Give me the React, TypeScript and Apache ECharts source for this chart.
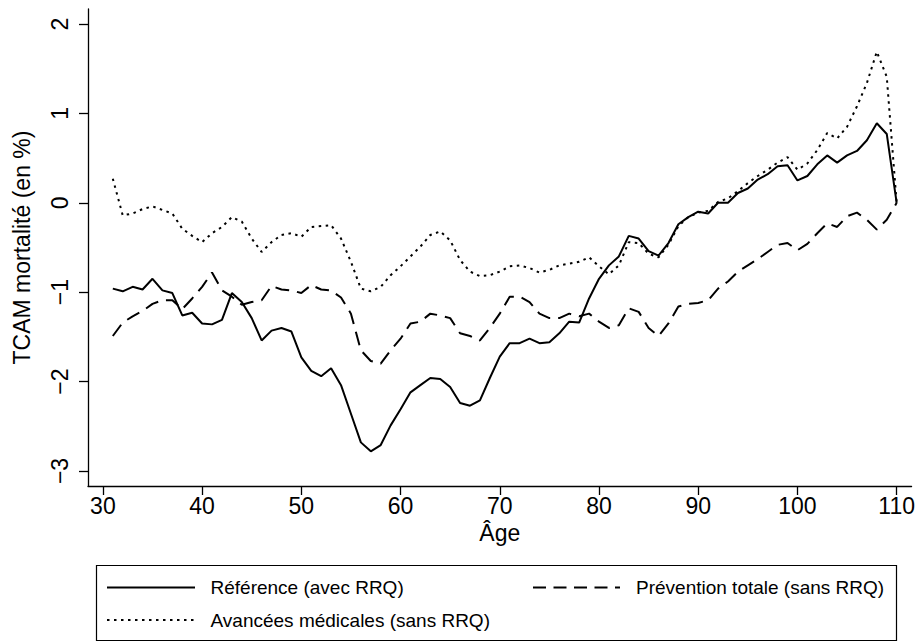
import React, { useEffect, useRef } from "react";
import * as echarts from "echarts";

const ages: number[] = [];
for (let a = 31; a <= 110; a++) ages.push(a);

const reference = [
  -0.96, -0.99, -0.94, -0.97, -0.85, -0.98, -1.01, -1.26, -1.23, -1.35,
  -1.36, -1.31, -1.01, -1.11, -1.29, -1.54, -1.43, -1.40, -1.44, -1.73,
  -1.88, -1.94, -1.85, -2.04, -2.36, -2.68, -2.78, -2.71, -2.49, -2.31,
  -2.12, -2.04, -1.96, -1.97, -2.06, -2.24, -2.27, -2.21, -1.96, -1.72,
  -1.57, -1.57, -1.52, -1.57, -1.56, -1.46, -1.33, -1.34, -1.07, -0.85,
  -0.70, -0.60, -0.37, -0.40, -0.54, -0.59, -0.45, -0.24, -0.16, -0.10,
  -0.12, 0.0, 0.0, 0.11, 0.16, 0.26, 0.32, 0.41, 0.42, 0.25,
  0.30, 0.43, 0.53, 0.45, 0.53, 0.58, 0.70, 0.89, 0.77, 0.0,
];

const prevention = [
  -1.49, -1.34, -1.27, -1.21, -1.13, -1.09, -1.09, -1.19, -1.07, -0.94,
  -0.78, -0.98, -1.05, -1.14, -1.11, -1.09, -0.93, -0.97, -0.98, -1.01,
  -0.92, -0.97, -0.98, -1.06, -1.24, -1.65, -1.77, -1.80, -1.65, -1.52,
  -1.35, -1.33, -1.24, -1.26, -1.29, -1.46, -1.49, -1.54, -1.40, -1.24,
  -1.05, -1.05, -1.11, -1.24, -1.29, -1.29, -1.24, -1.27, -1.24, -1.33,
  -1.40, -1.37, -1.18, -1.22, -1.40, -1.49, -1.35, -1.16, -1.13, -1.12,
  -1.09, -0.96, -0.88, -0.77, -0.70, -0.63, -0.55, -0.47, -0.45, -0.53,
  -0.46, -0.34, -0.23, -0.27, -0.15, -0.11, -0.19, -0.30, -0.19, 0.0,
];

const avancees = [
  0.27, -0.14, -0.12, -0.07, -0.04, -0.08, -0.12, -0.29, -0.37, -0.44,
  -0.34, -0.27, -0.16, -0.21, -0.40, -0.55, -0.44, -0.36, -0.34, -0.38,
  -0.27, -0.26, -0.25, -0.40, -0.66, -0.96, -0.99, -0.94, -0.81, -0.71,
  -0.60, -0.49, -0.36, -0.32, -0.42, -0.64, -0.77, -0.82, -0.81, -0.77,
  -0.71, -0.70, -0.73, -0.78, -0.75, -0.70, -0.68, -0.66, -0.61, -0.71,
  -0.80, -0.70, -0.44, -0.45, -0.57, -0.61, -0.47, -0.26, -0.16, -0.11,
  -0.09, 0.01, 0.05, 0.13, 0.22, 0.30, 0.37, 0.45, 0.51, 0.37,
  0.44, 0.59, 0.78, 0.72, 0.85, 1.08, 1.34, 1.69, 1.41, 0.0,
];

const xTicks = [30, 40, 50, 60, 70, 80, 90, 100, 110];
const yTicks = [-3, -2, -1, 0, 1, 2];

const seriesNames = [
  "Référence (avec RRQ)",
  "Prévention totale (sans RRQ)",
  "Avancées médicales (sans RRQ)",
];

const FONT = "'Liberation Sans', Arial, Helvetica, sans-serif";

export default function App() {
  const ref = useRef<HTMLDivElement>(null);

  useEffect(() => {
    if (!ref.current) return;
    const chart = echarts.init(ref.current, null, { renderer: "svg" });
    const pair = (vals: number[]) => ages.map((a, i) => [a, vals[i]]);
    const fmt = (v: number) => (v < 0 ? "\u2212" + Math.abs(v) : String(v));

    const legendTextStyle = {
      fill: "#000",
      fontSize: 19,
      fontFamily: FONT,
      verticalAlign: "middle" as const,
      align: "left" as const,
    };

    chart.setOption({
      animation: false,
      backgroundColor: "#fff",
      grid: { left: 88, right: 6, top: 9, bottom: 155, containLabel: false },
      xAxis: {
        type: "value",
        min: 28.5,
        max: 111.5,
        name: "Âge",
        nameLocation: "middle",
        nameGap: 33,
        nameTextStyle: { color: "#000", fontSize: 23, fontFamily: FONT },
        axisLine: { show: true, onZero: false, lineStyle: { color: "#000", width: 1.3 } },
        axisTick: {
          show: true,
          length: 9,
          customValues: xTicks,
          lineStyle: { color: "#000", width: 1.3 },
        },
        axisLabel: {
          customValues: xTicks,
          color: "#000",
          fontSize: 23,
          fontFamily: FONT,
          margin: 8,
        },
        splitLine: { show: false },
      },
      yAxis: {
        type: "value",
        min: -3.168,
        max: 2.168,
        name: "TCAM mortalité (en %)",
        nameLocation: "middle",
        nameRotate: 90,
        nameGap: 55,
        nameTextStyle: { color: "#000", fontSize: 23, fontFamily: FONT },
        axisLine: { show: true, onZero: false, lineStyle: { color: "#000", width: 1.3 } },
        axisTick: {
          show: true,
          length: 9,
          customValues: yTicks,
          lineStyle: { color: "#000", width: 1.3 },
        },
        axisLabel: {
          customValues: yTicks,
          rotate: 90,
          color: "#000",
          fontSize: 23,
          fontFamily: FONT,
          margin: 17,
          formatter: fmt,
        },
        splitLine: { show: false },
      },
      series: [
        {
          name: seriesNames[0],
          type: "line",
          data: pair(reference),
          symbol: "none",
          lineStyle: { color: "#000", width: 2 },
        },
        {
          name: seriesNames[1],
          type: "line",
          data: pair(prevention),
          symbol: "none",
          lineStyle: { color: "#000", width: 2, type: [14, 8] },
        },
        {
          name: seriesNames[2],
          type: "line",
          data: pair(avancees),
          symbol: "none",
          lineStyle: { color: "#000", width: 2, type: [2.5, 4.5] },
        },
      ],
      graphic: [
        {
          type: "rect",
          shape: { x: 96.5, y: 565.5, width: 800, height: 75 },
          style: { fill: "#fff", stroke: "#000", lineWidth: 1.2 },
        },
        {
          type: "line",
          shape: { x1: 107, y1: 587.5, x2: 195, y2: 587.5 },
          style: { stroke: "#000", lineWidth: 2 },
        },
        {
          type: "text",
          x: 210.5,
          y: 587.5,
          style: { ...legendTextStyle, text: seriesNames[0] },
        },
        {
          type: "line",
          shape: { x1: 533, y1: 587.5, x2: 620, y2: 587.5 },
          style: { stroke: "#000", lineWidth: 2, lineDash: [13, 7.5] },
        },
        {
          type: "text",
          x: 636,
          y: 587.5,
          style: { ...legendTextStyle, text: seriesNames[1] },
        },
        {
          type: "line",
          shape: { x1: 107, y1: 620, x2: 195, y2: 620 },
          style: { stroke: "#000", lineWidth: 2, lineDash: [2.5, 4.5] },
        },
        {
          type: "text",
          x: 210.5,
          y: 620,
          style: { ...legendTextStyle, text: seriesNames[2] },
        },
      ],
    });
    return () => chart.dispose();
  }, []);

  return (
    <div
      ref={ref}
      style={{ position: "fixed", left: 0, top: 0, width: 918, height: 641, background: "#fff" }}
    />
  );
}
